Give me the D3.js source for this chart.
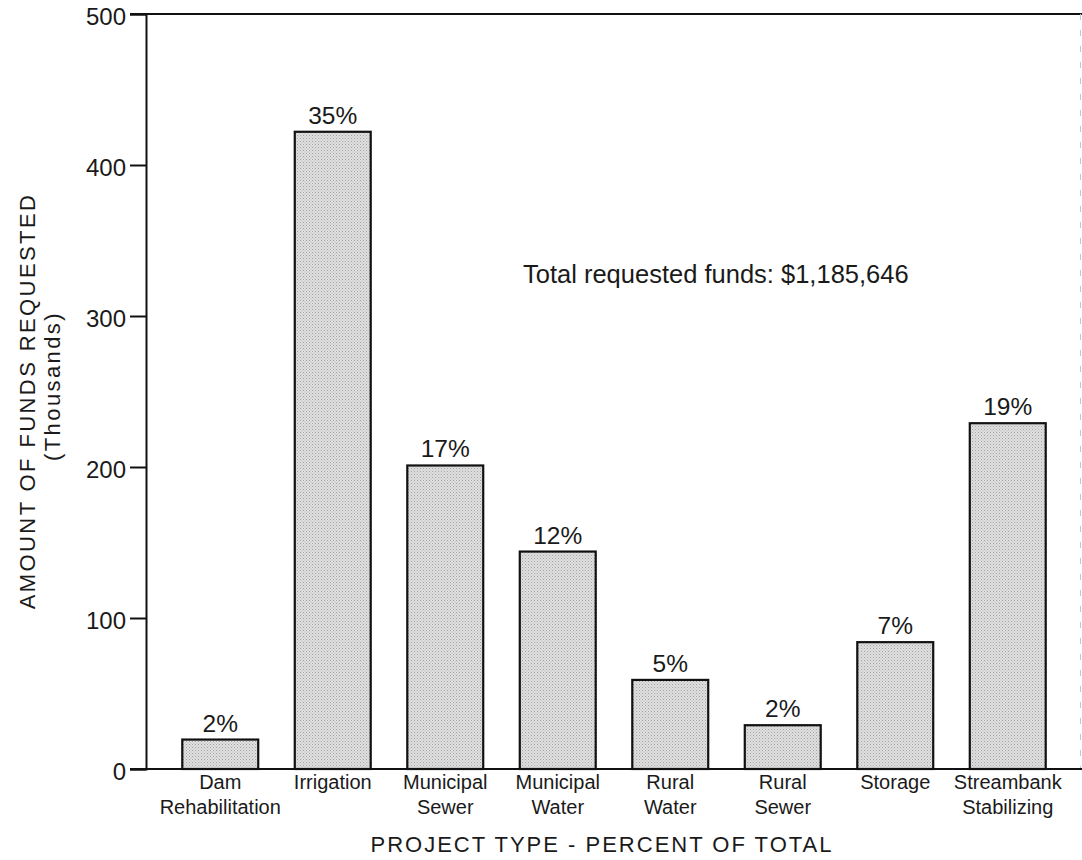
<!DOCTYPE html>
<html>
<head>
<meta charset="utf-8">
<script src="https://cdn.jsdelivr.net/npm/d3@7"></script>
<style>
  html, body { margin: 0; padding: 0; background: #fff; }
  svg { display: block; }
  text { font-family: "Liberation Sans", Arial, Helvetica, sans-serif; fill: #1a1a1a; }
</style>
</head>
<body>
<svg id="chart" width="1082" height="860"></svg>
<script>
// Project types (two-line labels) and requested funds in thousands of dollars
const categories = [
  ["Dam", "Rehabilitation"],
  ["Irrigation"],
  ["Municipal", "Sewer"],
  ["Municipal", "Water"],
  ["Rural", "Water"],
  ["Rural", "Sewer"],
  ["Storage"],
  ["Streambank", "Stabilizing"]
];
const funds = [19.5, 422, 201, 144, 59, 29, 84, 229];
const percentLabels = ["2%", "35%", "17%", "12%", "5%", "2%", "7%", "19%"];
const yTicks = [0, 100, 200, 300, 400, 500];
const totalNote = "Total requested funds: $1,185,646";

const svg = d3.select("#chart");
const plot = { left: 146, top: 14, right: 1082, bottom: 769 };

// Stippled fill used for the bars
const defs = svg.append("defs");
const pat = defs.append("pattern")
  .attr("id", "stipple")
  .attr("width", 3).attr("height", 3)
  .attr("patternUnits", "userSpaceOnUse");
pat.append("rect").attr("width", 3).attr("height", 3).attr("fill", "#dfdfdf");
pat.append("rect").attr("x", 0).attr("y", 0).attr("width", 1).attr("height", 1).attr("fill", "#a4a4a4");
pat.append("rect").attr("x", 1.5).attr("y", 1.5).attr("width", 1).attr("height", 1).attr("fill", "#b8b8b8");

const keys = categories.map(c => c.join(" "));
const x = d3.scaleBand()
  .domain(keys)
  .range([164, 1064])
  .paddingInner(0.325)
  .paddingOuter(0.1625);

const y = d3.scaleLinear().domain([0, 500]).range([plot.bottom, plot.top]);

// Frame: top rule runs to the right edge, faint dashed right edge
svg.append("line")
  .attr("x1", 130).attr("x2", plot.right)
  .attr("y1", y(500)).attr("y2", y(500))
  .attr("stroke", "#111").attr("stroke-width", 2);
svg.append("line")
  .attr("x1", plot.right - 1.5).attr("x2", plot.right - 1.5)
  .attr("y1", y(500)).attr("y2", y(0))
  .attr("stroke", "#c8c8c8").attr("stroke-width", 1)
  .attr("stroke-dasharray", "6,10");

// Bars
svg.append("g").selectAll("rect")
  .data(funds)
  .join("rect")
  .attr("x", (d, i) => x(keys[i]))
  .attr("y", d => y(d))
  .attr("width", x.bandwidth())
  .attr("height", d => y(0) - y(d))
  .attr("fill", "url(#stipple)")
  .attr("stroke", "#111")
  .attr("stroke-width", 2.2);

// Percent-of-total labels above the bars
svg.append("g").selectAll("text")
  .data(funds)
  .join("text")
  .attr("x", (d, i) => x(keys[i]) + x.bandwidth() / 2)
  .attr("y", d => y(d) - 8)
  .attr("text-anchor", "middle")
  .attr("font-size", 24.5)
  .text((d, i) => percentLabels[i]);

// Y axis
const yAxis = d3.axisLeft(y).tickValues(yTicks).tickSize(16).tickPadding(4).tickFormat(d3.format("d"));
const gy = svg.append("g").attr("transform", `translate(${plot.left},0)`).call(yAxis);
gy.select(".domain").attr("stroke", "#111").attr("stroke-width", 2);
gy.selectAll(".tick line").attr("stroke", "#111").attr("stroke-width", 2);
gy.selectAll(".tick text")
  .attr("font-size", 24)
  .attr("font-family", "Liberation Sans, Arial, sans-serif")
  .attr("fill", "#1a1a1a")
  .attr("dy", "0.42em");

// Baseline
svg.append("line")
  .attr("x1", 130).attr("x2", plot.right)
  .attr("y1", y(0)).attr("y2", y(0))
  .attr("stroke", "#111").attr("stroke-width", 2);

// Category labels
const cat = svg.append("g").selectAll("text")
  .data(categories)
  .join("text")
  .attr("x", (d, i) => x(keys[i]) + x.bandwidth() / 2)
  .attr("y", 789)
  .attr("text-anchor", "middle")
  .attr("font-size", 20);
cat.selectAll("tspan")
  .data(d => d)
  .join("tspan")
  .attr("x", function () { return d3.select(this.parentNode).attr("x"); })
  .attr("dy", (d, j) => j === 0 ? 0 : 25)
  .text(d => d);

// Axis titles
svg.append("text")
  .attr("x", 602).attr("y", 852)
  .attr("text-anchor", "middle")
  .attr("font-size", 22)
  .attr("letter-spacing", 2)
  .text("PROJECT TYPE - PERCENT OF TOTAL");

svg.append("text")
  .attr("transform", "translate(35,401) rotate(-90)")
  .attr("text-anchor", "middle")
  .attr("font-size", 22)
  .attr("letter-spacing", 2.4)
  .text("AMOUNT OF FUNDS REQUESTED");
svg.append("text")
  .attr("transform", "translate(60,386) rotate(-90)")
  .attr("text-anchor", "middle")
  .attr("font-size", 22)
  .attr("letter-spacing", 2.4)
  .text("(Thousands)");

// Total note
svg.append("text")
  .attr("x", 523).attr("y", 283)
  .attr("font-size", 25.5)
  .text(totalNote);
</script>
</body>
</html>
